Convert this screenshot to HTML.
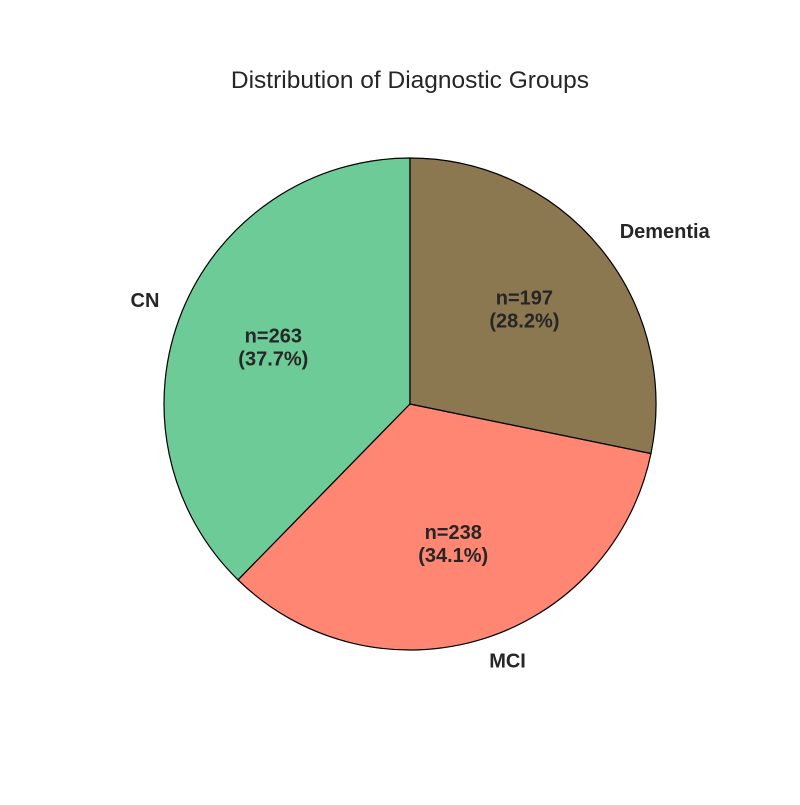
<!DOCTYPE html>
<html><head><meta charset="utf-8"><style>
body{margin:0;background:#fff;}
svg text{font-family:"Liberation Sans",Arial,sans-serif;fill:#262626;}
</style></head><body>
<svg id="chart" width="800" height="800" viewBox="0 0 800 800">
<rect width="800" height="800" fill="#fff"/>
<text x="410" y="88" font-size="24.5" text-anchor="middle">Distribution of Diagnostic Groups</text>
<g id="slices"></g>
</svg>
<script>
const categories = ["CN", "MCI", "Dementia"];
const counts = [263, 238, 197];
const colors = ["#6ccb97", "#fe8672", "#8b7750"];
const cx = 410, cy = 404, r = 246;
const svg = document.getElementById('slices');
const NS = "http://www.w3.org/2000/svg";
const total = counts.reduce((a, b) => a + b, 0);
let ang = 90;
function pt(a, rr) { const t = a * Math.PI / 180; return [cx + rr * Math.cos(t), cy - rr * Math.sin(t)]; }
counts.forEach((v, i) => {
  const sweep = v / total * 360;
  const a0 = ang, a1 = ang + sweep;
  const p0 = pt(a0, r), p1 = pt(a1, r);
  const path = document.createElementNS(NS, 'path');
  path.setAttribute('d', `M${cx},${cy} L${p0[0]},${p0[1]} A${r},${r} 0 ${sweep > 180 ? 1 : 0} 0 ${p1[0]},${p1[1]} Z`);
  path.setAttribute('fill', colors[i]);
  path.setAttribute('stroke', '#000');
  path.setAttribute('stroke-width', '1.2');
  
  
  svg.appendChild(path);
  const mid = (a0 + a1) / 2;
  const lp = pt(mid, r * 1.1);
  const lab = document.createElementNS(NS, 'text');
  lab.setAttribute('x', lp[0]);
  lab.setAttribute('y', lp[1] + 5);
  lab.setAttribute('font-size', '20');
  lab.setAttribute('font-weight', 'bold');
  lab.setAttribute('text-anchor', Math.cos(mid * Math.PI / 180) < 0 ? 'end' : 'start');
  lab.textContent = categories[i];
  
  
  svg.appendChild(lab);
  const pp = pt(mid, r * 0.6);
  const pct = document.createElementNS(NS, 'text');
  pct.setAttribute('x', pp[0]);
  pct.setAttribute('y', pp[1]);
  pct.setAttribute('font-size', '20');
  pct.setAttribute('font-weight', 'bold');
  pct.setAttribute('text-anchor', 'middle');
  const t1 = document.createElementNS(NS, 'tspan');
  t1.setAttribute('x', pp[0]); t1.setAttribute('dy', '-6');
  t1.textContent = 'n=' + v;
  const t2 = document.createElementNS(NS, 'tspan');
  t2.setAttribute('x', pp[0]); t2.setAttribute('dy', '23');
  t2.textContent = '(' + (v / total * 100).toFixed(1) + '%)';
  pct.appendChild(t1); pct.appendChild(t2);
  
  
  svg.appendChild(pct);
  ang = a1;
});
</script>
</body></html>
